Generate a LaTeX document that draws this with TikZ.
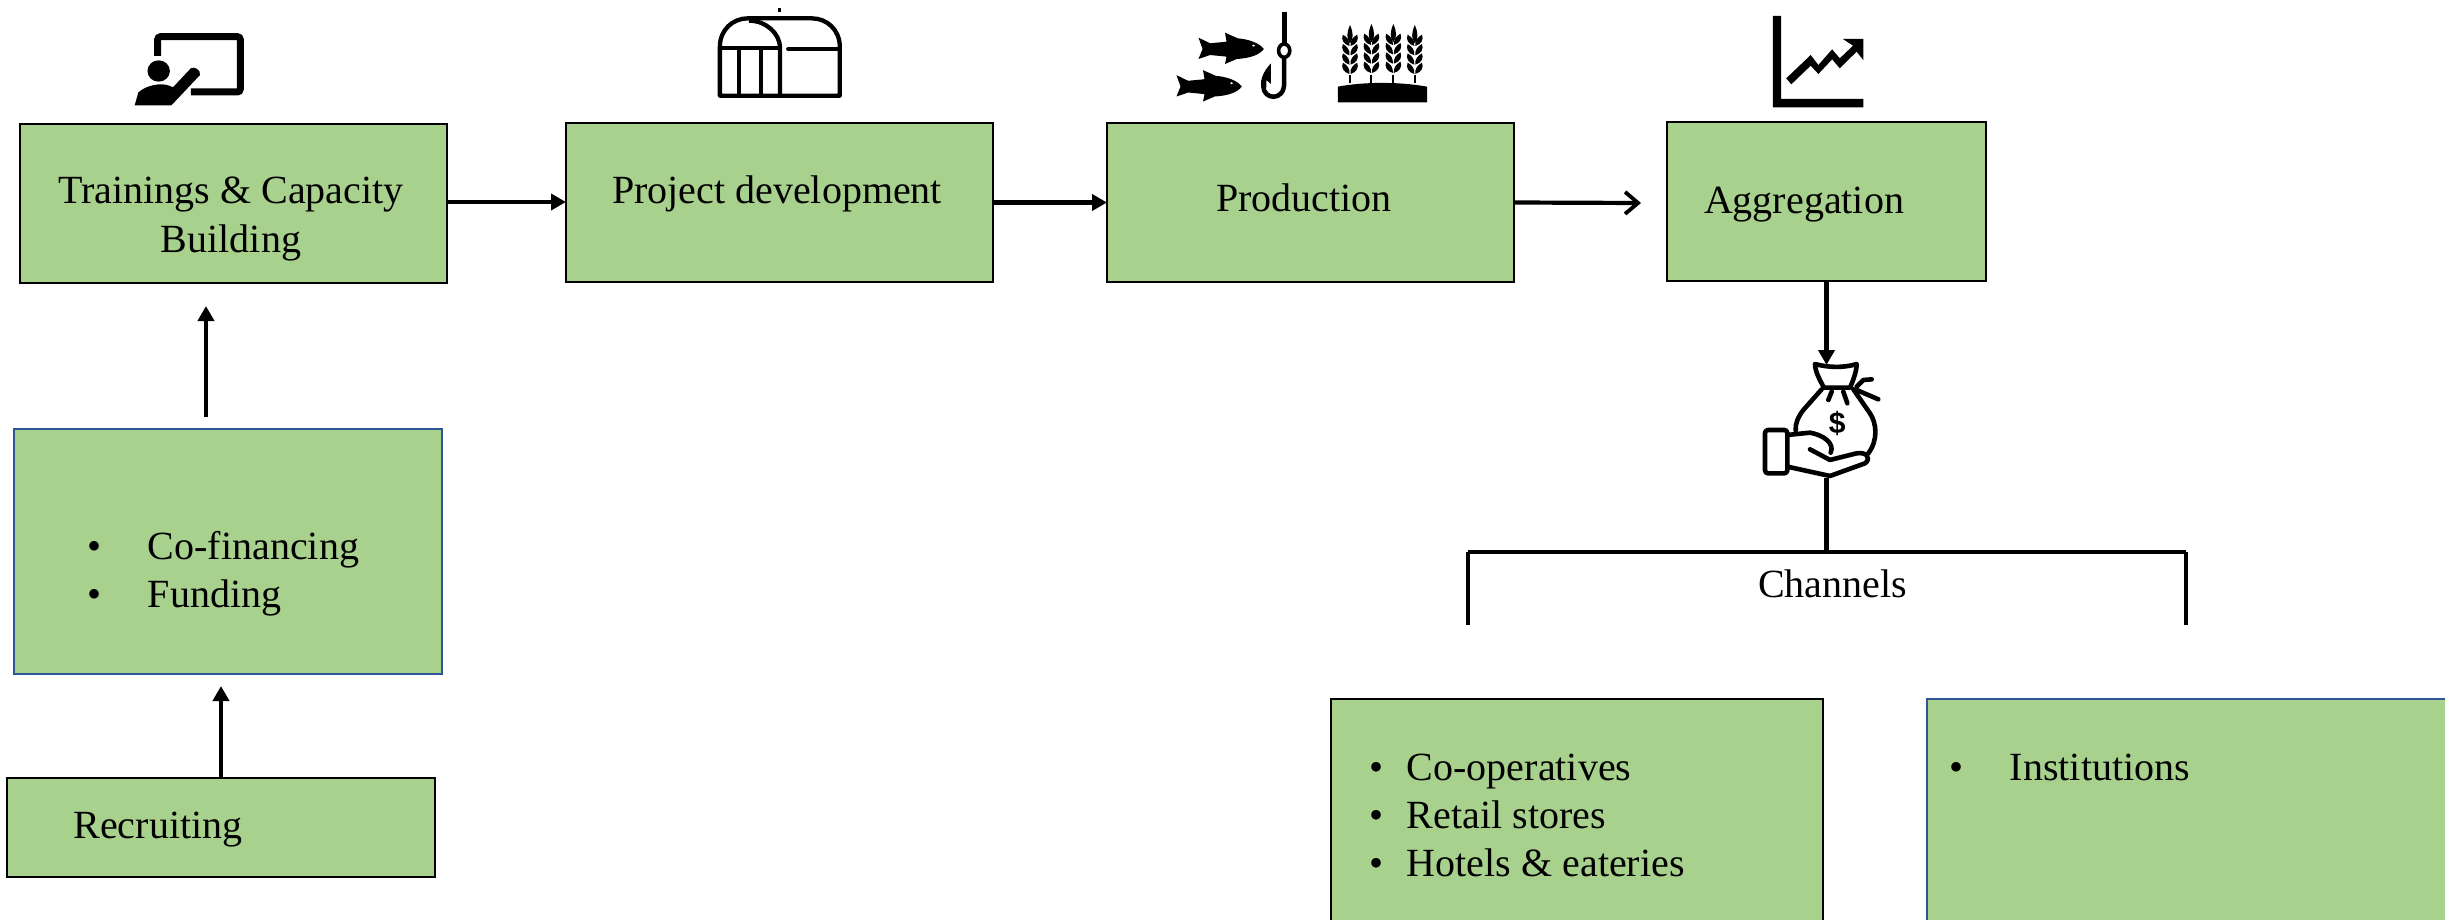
\documentclass[tikz,border=0pt]{standalone}
\usepackage{fontspec}
\setmainfont{Liberation Serif}
\newfontfamily\iconsans{Liberation Sans}
\usetikzlibrary{arrows.meta}
\definecolor{boxgreen}{HTML}{A9D18E}
\definecolor{boxblue}{HTML}{2F5597}
\newcommand{\bulitem}[2]{\makebox[#1][l]{•}#2}
\newcommand{\fishshape}{(95,113) -- (118,130) .. controls (128,128) and (140,127) .. (150,125) -- (147,98) -- (172,115) .. controls (195,118) and (215,130) .. (223,147) .. controls (215,165) and (195,175) .. (170,177) -- (147,192) -- (150,170) .. controls (140,168) and (128,167) .. (118,165) -- (95,177) -- (103,147) -- cycle}
\tikzset{
  flowbox/.style={draw=black,fill=boxgreen,line width=2.9pt,inner sep=0pt,outer sep=0pt},
  bluebox/.style={flowbox,draw=boxblue,line width=2.6pt},
  lab/.style={font=\fontsize{40}{48}\selectfont,inner sep=0pt,outer sep=0pt,text=black},
  labc/.style={lab,anchor=base},
  labl/.style={lab,anchor=base west},
  flow/.style={line width=4.2pt,-{Triangle[length=15pt,width=16pt]}},
  openflow/.style={line width=4.2pt,-{Straight Barb[length=13pt,width=22pt,line width=3.8pt]}},
  rule/.style={line width=4.4pt},
  zoomA/.style={shift={(100pt,0pt)},x=0.5102pt,y=-0.3333pt},
  zoomB/.style={shift={(1150pt,0pt)},x=0.5102pt,y=-0.3333pt},
  zoomC/.style={shift={(1700pt,-340pt)},x=0.3333pt,y=-0.3333pt},
  iconline/.style={line width=4.6pt,line join=round,line cap=round},
}
\begin{document}
\begin{tikzpicture}[x=1pt,y=-1pt]
\clip (0,0) rectangle (2445,920);
\fill[white] (0,0) rectangle (2445,920);
% boxes
\node[flowbox,minimum width=427pt,minimum height=159pt] (train) at (233.5,203.5) {};
\node[flowbox,minimum width=427pt,minimum height=159pt] (proj) at (779.5,202.5) {};
\node[flowbox,minimum width=407pt,minimum height=159pt] (prod) at (1310.5,202.5) {};
\node[flowbox,minimum width=319pt,minimum height=159pt] (agg) at (1826.5,201.5) {};
\node[bluebox,minimum width=428pt,minimum height=245pt] (fin) at (228,551.5) {};
\node[flowbox,minimum width=428pt,minimum height=99pt] (rec) at (221,827.5) {};
\node[flowbox,minimum width=492pt,minimum height=261pt] (chanL) at (1577,829.5) {};
\node[bluebox,minimum width=543pt,minimum height=261pt] (chanR) at (2198.5,829.5) {};
% labels
\node[labc] (t1a) at (231,204) {Trainings \& Capacity};
\node[labc] (t1b) at (231,252) {Building};
\node[labc] (t2) at (777,204) {Project development};
\node[labc] (t3) at (1304,211.5) {Production};
\node[labc] (t4) at (1804,213.5) {Aggregation};
\node[labc] (t5) at (1832.5,597) {Channels};
\node[labl] (f1) at (87,559) {\bulitem{61pt}{Co-financing}};
\node[labl] (f2) at (87,607) {\bulitem{61pt}{Funding}};
\node[labl] (t6) at (73.5,838) {Recruiting};
\node[labl] (c1) at (1369,780) {\bulitem{38pt}{Co-operatives}};
\node[labl] (c2) at (1369,828) {\bulitem{38pt}{Retail stores}};
\node[labl] (c3) at (1369,876) {\bulitem{38pt}{Hotels \& eateries}};
\node[labl] (c4) at (1949,780) {\bulitem{61pt}{Institutions}};
% connectors
\coordinate (finout) at (206,417);
\coordinate (trainin) at (206,306);
\coordinate (finin) at (221,686);
\coordinate (aggout) at (1641,203);
\coordinate (bagin) at (1826.5,365);
\coordinate (bagout) at (1826.5,478);
\coordinate (brM) at (1826.5,552);
\coordinate (brL) at (1468,552);
\coordinate (brR) at (2186,552);
\coordinate (brLe) at (1468,625);
\coordinate (brRe) at (2186,625);
\draw[flow] ([yshift=1.5pt]train.east) -- ([yshift=0.5pt]proj.west);
\draw[flow] (proj.east) -- (prod.west);
\draw[openflow] (prod.east) -- (aggout);
\draw[flow] (agg.south) -- (bagin);
\draw[flow] (finout) -- (trainin);
\draw[flow] (rec.north) -- (finin);
\draw[rule] (bagout) -- (brM);
\draw[rule,line width=4.6pt] (brL) -- (brR);
\draw[rule,line width=3.6pt] (brLe) -- (brL);
\draw[rule,line width=3.6pt] (brRe) -- (brR);
% teacher icon
\begin{scope}[zoomA]
\draw[line width=7pt,rounded corners=3pt] (113,168) -- (113,110) -- (275,110) -- (275,276) -- (178,276);
\fill (115,213) ellipse [x radius=22,y radius=32];
\fill (68,316) -- (75,278) .. controls (85,262) and (105,253) .. (120,253) .. controls (130,253) and (138,258) .. (143,262) -- (178,205) .. controls (185,198) and (198,210) .. (196,225) -- (140,316) -- cycle;
% greenhouse
\draw[line width=4.3pt,line join=round] (1215,287) -- (1450,287) -- (1450,140) .. controls (1450,90) and (1425,55) .. (1395,55) -- (1270,55) .. controls (1240,55) and (1215,90) .. (1215,140) -- cycle;
\draw[line width=4.3pt] (1272,62) .. controls (1305,62) and (1333,100) .. (1333,145) -- (1333,287);
\draw[line width=4.3pt] (1215,145) -- (1333,145);
\draw[line width=4.3pt,line cap=round] (1349,147) -- (1450,147);
\draw[line width=4.3pt] (1253,148) -- (1253,287);
\draw[line width=4.3pt] (1296,148) -- (1296,287);
\draw[line width=3pt] (1332,25) -- (1332,37);
\end{scope}
% fish, hook, wheat, chart
\begin{scope}[zoomB]
\fill \fishshape;
\fill[white] (203,137) ellipse [x radius=3,y radius=3];
\begin{scope}[shift={(-22pt,-37.5pt)}]
\fill \fishshape;
\fill[white] (203,137) ellipse [x radius=3,y radius=3];
\end{scope}
\draw[line width=5pt] (263,37) -- (263,132);
\draw[line width=3.6pt] (263,152) ellipse [x radius=11,y radius=20];
\draw[line width=4.5pt] (263,172) -- (263,250) .. controls (263,305) and (222,300) .. (222,258);
\fill (237,190) .. controls (225,210) and (215,235) .. (218,262) -- (228,262) -- (228,240) -- (237,252) -- cycle;
\fill (368,260) .. controls (420,245) and (490,245) .. (543,260) -- (543,307) -- (368,307) -- cycle;
\foreach \ex/\ey in {392/0,434/-3,477/-3,519/0}{
  \draw[line width=2pt] (\ex,250) -- (\ex,225);
  \fill (\ex,\ey+75) .. controls (\ex+7,\ey+100) and (\ex+7,\ey+115) .. (\ex,\ey+130) .. controls (\ex-7,\ey+115) and (\ex-7,\ey+100) .. (\ex,\ey+75) -- cycle;
  \foreach \ry in {118,146,174,202}{
    \fill (\ex-1,\ey+\ry+20) .. controls (\ex-13,\ey+\ry+15) and (\ex-18,\ey+\ry) .. (\ex-14,\ey+\ry-14) .. controls (\ex-5,\ey+\ry-6) and (\ex,\ey+\ry+4) .. (\ex-1,\ey+\ry+20) -- cycle;
    \fill (\ex+1,\ey+\ry+20) .. controls (\ex+13,\ey+\ry+15) and (\ex+18,\ey+\ry) .. (\ex+14,\ey+\ry-14) .. controls (\ex+5,\ey+\ry-6) and (\ex,\ey+\ry+4) .. (\ex+1,\ey+\ry+20) -- cycle;
  }
}
\fill (1221,48) -- (1237,48) -- (1237,297) -- (1398,297) -- (1398,322) -- (1221,322) -- cycle;
\fill (1247,235) -- (1295,165) -- (1310,195) -- (1337,148) -- (1352,175) -- (1378,137) -- (1358,117) -- (1398,117) -- (1398,180) -- (1385,155) -- (1352,205) -- (1337,178) -- (1310,222) -- (1295,197) -- (1257,253) -- cycle;
\end{scope}
% money bag
\begin{scope}[zoomC]
\draw[iconline] (345,72) .. controls (380,82) and (430,85) .. (470,72) .. controls (470,95) and (458,125) .. (450,143) -- (372,143) .. controls (362,125) and (345,95) .. (345,72) -- cycle;
\draw[iconline] (365,148) -- (310,210) .. controls (295,230) and (285,250) .. (287,272);
\draw[iconline] (460,148) -- (510,220) .. controls (530,250) and (535,300) .. (505,340);
\draw[iconline] (470,140) -- (490,120) -- (515,118);
\draw[iconline] (470,150) -- (535,178);
\draw[iconline] (395,155) -- (385,180);
\draw[iconline] (430,155) -- (442,190);
\node[inner sep=0pt,font=\iconsans\bfseries\fontsize{30}{30}\selectfont] (dollar) at (412,250) {\$};
\draw[iconline,rounded corners=3pt] (195,270) rectangle (262,400);
\draw[iconline] (262,285) -- (330,278) .. controls (370,285) and (405,310) .. (392,338);
\draw[iconline] (330,328) -- (390,360) -- (470,340) .. controls (500,335) and (515,355) .. (495,370) -- (390,408) -- (262,380);
\end{scope}
\end{tikzpicture}
\end{document}
